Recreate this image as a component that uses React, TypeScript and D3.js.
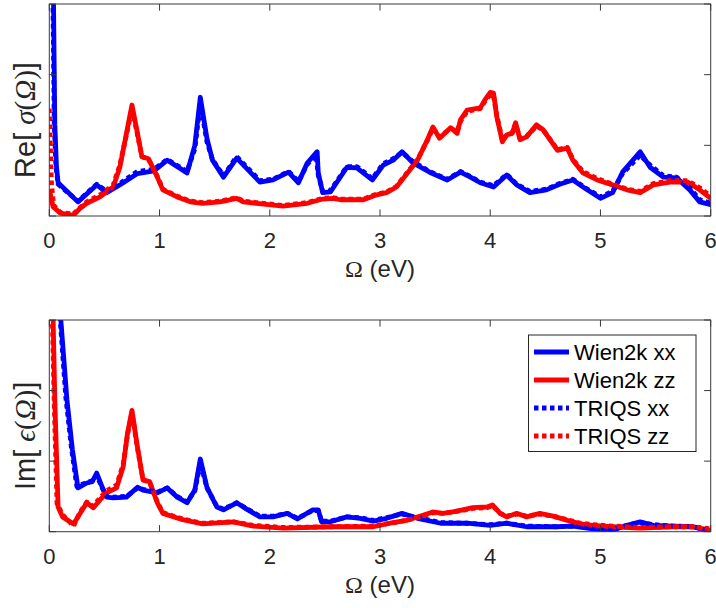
import React from "react";
import * as d3 from "d3";

// ---------- DATA (Ω in eV, values in axis units 0..3) ----------
const xTicks = [0, 1, 2, 3, 4, 5, 6];
const yTicks = [0, 1, 2, 3];

const reWien2kXX: [number, number][] = [
  [0.025, 6], [0.035, 3.5], [0.05, 1.3], [0.065, 0.7], [0.08, 0.47], [0.26, 0.2], [0.43, 0.44], [0.52, 0.33],
  [0.65, 0.45], [0.8, 0.6], [0.95, 0.64], [1.07, 0.79], [1.25, 0.61], [1.32, 1.0], [1.37, 1.68], [1.43, 1.1],
  [1.48, 0.79], [1.58, 0.55], [1.7, 0.82], [1.91, 0.48], [2.03, 0.51], [2.17, 0.62], [2.26, 0.47], [2.34, 0.75],
  [2.43, 0.91], [2.44, 0.61], [2.48, 0.33], [2.55, 0.34], [2.7, 0.69], [2.79, 0.68], [2.93, 0.51], [3.03, 0.72],
  [3.12, 0.79], [3.2, 0.91], [3.3, 0.75], [3.45, 0.62], [3.61, 0.51], [3.73, 0.62], [3.82, 0.55], [3.91, 0.47],
  [4.03, 0.41], [4.15, 0.58], [4.24, 0.44], [4.36, 0.33], [4.51, 0.37], [4.63, 0.45], [4.75, 0.51], [4.88, 0.37],
  [5.0, 0.25], [5.11, 0.33], [5.2, 0.62], [5.36, 0.91], [5.45, 0.69], [5.57, 0.55], [5.69, 0.54], [5.81, 0.37],
  [5.9, 0.2], [6.0, 0.16],
];
const reWien2kZZ: [number, number][] = [
  [0.005, 0.34], [0.034, 0.13], [0.1, 0.04], [0.22, 0.01], [0.28, 0.11], [0.34, 0.18], [0.46, 0.27], [0.58, 0.41],
  [0.64, 0.69], [0.7, 1.17], [0.75, 1.57], [0.8, 1.17], [0.84, 0.84], [0.9, 0.81], [0.98, 0.55], [1.03, 0.37],
  [1.16, 0.27], [1.28, 0.2], [1.39, 0.18], [1.55, 0.2], [1.7, 0.25], [1.76, 0.2], [1.88, 0.18], [2.12, 0.14],
  [2.34, 0.18], [2.48, 0.24], [2.57, 0.25], [2.64, 0.23], [2.85, 0.23], [2.97, 0.3], [3.06, 0.33], [3.15, 0.41],
  [3.25, 0.61], [3.34, 0.79], [3.43, 1.08], [3.48, 1.26], [3.54, 1.1], [3.64, 1.25], [3.7, 1.17], [3.73, 1.36],
  [3.79, 1.5], [3.91, 1.53], [3.95, 1.64], [4.0, 1.75], [4.03, 1.74], [4.06, 1.4], [4.11, 1.05], [4.15, 1.15],
  [4.2, 1.17], [4.23, 1.32], [4.27, 1.08], [4.33, 1.12], [4.42, 1.29], [4.48, 1.22], [4.61, 0.93], [4.7, 0.96],
  [4.75, 0.79], [4.84, 0.61], [4.97, 0.51], [5.11, 0.44], [5.24, 0.37], [5.36, 0.33], [5.48, 0.44], [5.63, 0.48],
  [5.79, 0.48], [5.9, 0.37], [6.0, 0.25],
];
const reTriqsXX: [number, number][] = [
  [0.02, 6], [0.03, 3.5], [0.045, 1.3], [0.06, 0.7], [0.08, 0.45], [0.26, 0.21], [0.43, 0.45], [0.52, 0.35],
  [0.65, 0.47], [0.8, 0.63], [0.95, 0.66], [1.07, 0.8], [1.25, 0.63], [1.32, 0.95], [1.37, 1.6], [1.43, 1.05],
  [1.48, 0.8], [1.58, 0.57], [1.7, 0.84], [1.91, 0.5], [2.03, 0.52], [2.17, 0.63], [2.26, 0.49], [2.34, 0.73],
  [2.42, 0.86], [2.44, 0.58], [2.48, 0.35], [2.55, 0.36], [2.7, 0.7], [2.79, 0.7], [2.93, 0.53], [3.03, 0.74],
  [3.12, 0.81], [3.2, 0.9], [3.3, 0.77], [3.45, 0.63], [3.61, 0.52], [3.73, 0.63], [3.82, 0.56], [3.91, 0.48],
  [4.03, 0.43], [4.15, 0.59], [4.24, 0.45], [4.36, 0.35], [4.51, 0.38], [4.63, 0.46], [4.75, 0.52], [4.88, 0.38],
  [5.0, 0.27], [5.11, 0.35], [5.2, 0.6], [5.36, 0.86], [5.45, 0.72], [5.57, 0.57], [5.69, 0.55], [5.81, 0.4],
  [5.9, 0.23], [6.0, 0.18],
];
const reTriqsZZ: [number, number][] = [
  [0.0, 1.52], [0.01, 1.0], [0.02, 0.45], [0.04, 0.15], [0.1, 0.05], [0.22, 0.03], [0.28, 0.12], [0.34, 0.2],
  [0.46, 0.3], [0.58, 0.44], [0.64, 0.72], [0.7, 1.15], [0.75, 1.52], [0.8, 1.15], [0.84, 0.84], [0.9, 0.8],
  [0.98, 0.56], [1.03, 0.38], [1.16, 0.28], [1.28, 0.21], [1.39, 0.19], [1.55, 0.21], [1.7, 0.26], [1.76, 0.21],
  [1.88, 0.19], [2.12, 0.15], [2.34, 0.19], [2.48, 0.25], [2.57, 0.26], [2.64, 0.24], [2.85, 0.24], [2.97, 0.31],
  [3.06, 0.34], [3.15, 0.42], [3.25, 0.62], [3.34, 0.8], [3.43, 1.07], [3.48, 1.24], [3.54, 1.12], [3.64, 1.24],
  [3.7, 1.2], [3.73, 1.34], [3.79, 1.48], [3.91, 1.52], [3.95, 1.62], [4.0, 1.72], [4.03, 1.7], [4.06, 1.42],
  [4.11, 1.07], [4.15, 1.14], [4.2, 1.18], [4.23, 1.3], [4.27, 1.1], [4.33, 1.13], [4.42, 1.27], [4.48, 1.22],
  [4.61, 0.94], [4.7, 0.97], [4.75, 0.8], [4.84, 0.63], [4.97, 0.53], [5.11, 0.45], [5.24, 0.38], [5.36, 0.35],
  [5.48, 0.46], [5.63, 0.5], [5.79, 0.5], [5.9, 0.4], [6.0, 0.28],
];

const imWien2kXX: [number, number][] = [
  [0.06, 6], [0.09, 3.3], [0.16, 1.87], [0.21, 1.16], [0.26, 0.62], [0.34, 0.69], [0.39, 0.71], [0.43, 0.83],
  [0.48, 0.63], [0.52, 0.49], [0.58, 0.48], [0.7, 0.49], [0.8, 0.63], [0.85, 0.59], [0.98, 0.55], [1.07, 0.62],
  [1.16, 0.49], [1.25, 0.41], [1.32, 0.59], [1.37, 1.03], [1.43, 0.63], [1.52, 0.35], [1.58, 0.31], [1.7, 0.41],
  [1.79, 0.32], [1.91, 0.21], [2.03, 0.21], [2.16, 0.26], [2.25, 0.18], [2.39, 0.31], [2.44, 0.31], [2.47, 0.14],
  [2.55, 0.14], [2.7, 0.21], [2.82, 0.19], [2.94, 0.15], [3.06, 0.19], [3.2, 0.26], [3.34, 0.19], [3.55, 0.12],
  [3.79, 0.12], [4.0, 0.09], [4.15, 0.12], [4.33, 0.07], [4.6, 0.07], [4.75, 0.08], [4.93, 0.04], [5.11, 0.02],
  [5.24, 0.09], [5.36, 0.14], [5.48, 0.09], [5.66, 0.08], [5.84, 0.07], [6.0, 0.0],
];
const imWien2kZZ: [number, number][] = [
  [0.025, 6], [0.035, 3.0], [0.05, 1.87], [0.08, 0.35], [0.12, 0.21], [0.22, 0.11], [0.28, 0.26], [0.34, 0.41],
  [0.4, 0.34], [0.46, 0.45], [0.52, 0.55], [0.61, 0.62], [0.67, 0.92], [0.71, 1.4], [0.75, 1.72], [0.8, 1.2],
  [0.85, 0.73], [0.91, 0.71], [0.98, 0.41], [1.03, 0.26], [1.21, 0.17], [1.39, 0.11], [1.67, 0.14], [1.85, 0.08],
  [2.12, 0.05], [2.57, 0.07], [2.94, 0.07], [3.09, 0.12], [3.24, 0.16], [3.36, 0.22], [3.48, 0.28], [3.57, 0.26],
  [3.66, 0.28], [3.75, 0.31], [3.84, 0.34], [3.97, 0.35], [4.02, 0.38], [4.09, 0.26], [4.15, 0.21], [4.24, 0.26],
  [4.33, 0.21], [4.45, 0.26], [4.57, 0.22], [4.7, 0.16], [4.82, 0.11], [4.93, 0.09], [5.11, 0.07], [5.36, 0.05],
  [5.66, 0.07], [5.84, 0.07], [6.0, 0.02],
];
const imTriqsXX: [number, number][] = [
  [0.055, 6], [0.085, 3.3], [0.15, 1.9], [0.2, 1.2], [0.25, 0.64], [0.34, 0.7], [0.39, 0.72], [0.43, 0.8],
  [0.48, 0.62], [0.52, 0.5], [0.58, 0.49], [0.7, 0.5], [0.8, 0.62], [0.85, 0.6], [0.98, 0.56], [1.07, 0.62],
  [1.16, 0.5], [1.25, 0.42], [1.32, 0.58], [1.37, 0.98], [1.43, 0.62], [1.52, 0.36], [1.58, 0.32], [1.7, 0.41],
  [1.79, 0.33], [1.91, 0.22], [2.03, 0.22], [2.16, 0.26], [2.25, 0.19], [2.39, 0.3], [2.44, 0.3], [2.47, 0.15],
  [2.55, 0.15], [2.7, 0.21], [2.82, 0.2], [2.94, 0.16], [3.06, 0.2], [3.2, 0.25], [3.34, 0.2], [3.55, 0.13],
  [3.79, 0.12], [4.0, 0.1], [4.15, 0.12], [4.33, 0.08], [4.6, 0.07], [4.75, 0.08], [4.93, 0.05], [5.11, 0.03],
  [5.24, 0.09], [5.36, 0.13], [5.48, 0.1], [5.66, 0.08], [5.84, 0.07], [6.0, 0.01],
];
const imTriqsZZ: [number, number][] = [
  [0.02, 6], [0.028, 3.0], [0.045, 1.8], [0.07, 0.4], [0.12, 0.24], [0.22, 0.08], [0.28, 0.28], [0.34, 0.42],
  [0.4, 0.36], [0.46, 0.48], [0.52, 0.58], [0.61, 0.66], [0.67, 0.95], [0.71, 1.38], [0.75, 1.68], [0.8, 1.18],
  [0.85, 0.74], [0.91, 0.7], [0.98, 0.42], [1.03, 0.27], [1.21, 0.18], [1.39, 0.12], [1.67, 0.14], [1.85, 0.09],
  [2.12, 0.06], [2.57, 0.07], [2.94, 0.08], [3.09, 0.12], [3.24, 0.16], [3.36, 0.21], [3.48, 0.27], [3.57, 0.26],
  [3.66, 0.28], [3.75, 0.3], [3.84, 0.33], [3.97, 0.34], [4.02, 0.37], [4.09, 0.26], [4.15, 0.22], [4.24, 0.25],
  [4.33, 0.22], [4.45, 0.25], [4.57, 0.22], [4.7, 0.17], [4.82, 0.12], [4.93, 0.1], [5.11, 0.08], [5.36, 0.06],
  [5.66, 0.07], [5.84, 0.07], [6.0, 0.04],
];

const legendLabels = ["Wien2k xx", "Wien2k zz", "TRIQS xx", "TRIQS zz"];
const seriesColors = ["#0000ff", "#ff0000", "#0000ff", "#ff0000"];
const seriesDotted = [false, false, true, true];

// ---------- LAYOUT ----------
const W = 716;
const H = 608;
const X0 = 49.3;
const X1 = 710.7;
const panels = [
  { top: 4, bottom: 216, data: [reWien2kXX, reWien2kZZ, reTriqsXX, reTriqsZZ], sym: "σ", pre: "Re[ " },
  { top: 320, bottom: 531.7, data: [imWien2kXX, imWien2kZZ, imTriqsXX, imTriqsZZ], sym: "ϵ", pre: "Im[ " },
];

const SANS = "'Liberation Sans', Arial, Helvetica, sans-serif";
const SERIF = "'Liberation Serif', 'DejaVu Serif', serif";
const AXIS = "#3a3a3a";

export default function App() {
  const x = d3.scaleLinear().domain([0, 6]).range([X0, X1]);
  return (
    <svg
      width={W}
      height={H}
      viewBox={`0 0 ${W} ${H}`}
      style={{ position: "absolute", left: 0, top: 0, background: "#fff" }}
    >
      <rect x={0} y={0} width={W} height={H} fill="#fff" />
      {panels.map((p, pi) => {
        const y = d3.scaleLinear().domain([0, 3]).range([p.bottom, p.top]);
        const line = d3
          .line<[number, number]>()
          .x((d) => x(d[0]))
          .y((d) => y(d[1]));
        const clipId = `clip${pi}`;
        const cy = (p.top + p.bottom) / 2 + 10;
        return (
          <g key={pi}>
            <defs>
              <clipPath id={clipId}>
                <rect x={X0} y={p.top} width={X1 - X0} height={p.bottom - p.top} />
              </clipPath>
            </defs>
            <g clipPath={`url(#${clipId})`}>
              {p.data.map((s, si) => (
                <path
                  key={si}
                  d={line(s) || ""}
                  fill="none"
                  stroke={seriesColors[si]}
                  strokeWidth={4.8}
                  strokeLinejoin="round"
                  strokeLinecap={seriesDotted[si] ? "butt" : "round"}
                  strokeDasharray={seriesDotted[si] ? "4.5,3.5" : undefined}
                />
              ))}
            </g>
            {/* box */}
            <rect
              x={X0}
              y={p.top}
              width={X1 - X0}
              height={p.bottom - p.top}
              fill="none"
              stroke={AXIS}
              strokeWidth={1}
            />
            {/* x ticks */}
            {xTicks.map((t) => (
              <g key={`xt${t}`}>
                <line x1={x(t)} x2={x(t)} y1={p.bottom} y2={p.bottom - 6.6} stroke={AXIS} strokeWidth={1} />
                <line x1={x(t)} x2={x(t)} y1={p.top} y2={p.top + 6.6} stroke={AXIS} strokeWidth={1} />
                <text
                  x={x(t)}
                  y={p.bottom + 32}
                  textAnchor="middle"
                  fontFamily={SANS}
                  fontSize={22}
                  fill="#262626"
                >
                  {t}
                </text>
              </g>
            ))}
            {/* y ticks */}
            {yTicks.map((t) => (
              <g key={`yt${t}`}>
                <line x1={X0} x2={X0 + 6.6} y1={y(t)} y2={y(t)} stroke={AXIS} strokeWidth={1} />
                <line x1={X1} x2={X1 - 6.6} y1={y(t)} y2={y(t)} stroke={AXIS} strokeWidth={1} />
              </g>
            ))}
            {/* x label */}
            <text
              x={(X0 + X1) / 2}
              y={p.bottom + 61}
              textAnchor="middle"
              fontSize={24}
              fill="#262626"
            >
              <tspan fontFamily={SERIF}>Ω</tspan>
              <tspan fontFamily={SANS}> (eV)</tspan>
            </text>
            {/* y label */}
            <text
              transform={`translate(35,${cy}) rotate(-90)`}
              textAnchor="middle"
              fontSize={29}
              fill="#262626"
            >
              <tspan fontFamily={SANS}>{p.pre}</tspan>
              <tspan fontFamily={SERIF} fontStyle="italic">{p.sym}</tspan>
              <tspan fontFamily={SERIF}>(</tspan>
              <tspan fontFamily={SERIF} fontStyle="italic">Ω</tspan>
              <tspan fontFamily={SERIF}>)</tspan>
              <tspan fontFamily={SANS}>]</tspan>
            </text>
          </g>
        );
      })}
      {/* legend */}
      <g>
        <rect x={528.5} y={335} width={167.5} height={116.5} fill="#fff" stroke="#262626" strokeWidth={1} />
        {legendLabels.map((lab, i) => {
          const ly = 352 + i * 28;
          return (
            <g key={lab}>
              <line
                x1={534}
                x2={569}
                y1={ly}
                y2={ly}
                stroke={seriesColors[i]}
                strokeWidth={4.8}
                strokeDasharray={seriesDotted[i] ? "4.5,3.5" : undefined}
              />
              <text x={574} y={ly + 8} fontFamily={SANS} fontSize={22} fill="#000">
                {lab}
              </text>
            </g>
          );
        })}
      </g>
    </svg>
  );
}
